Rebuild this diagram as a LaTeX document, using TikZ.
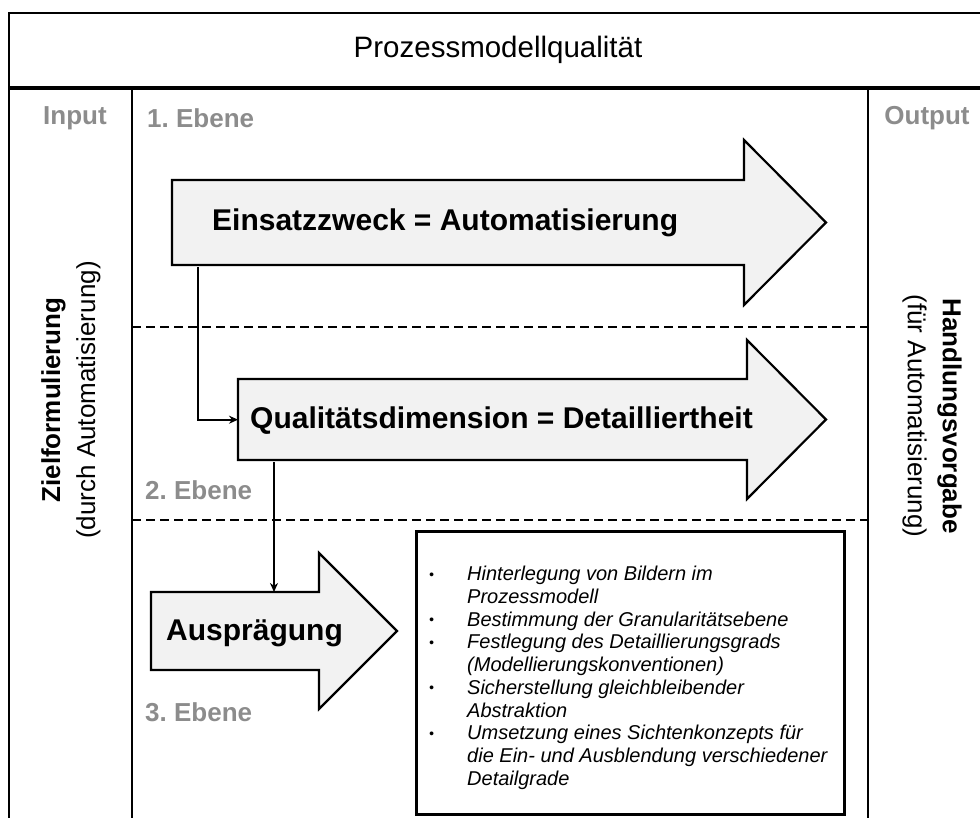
\documentclass[tikz,border=0pt]{standalone}
\usepackage{fontspec}
\setmainfont{Liberation Sans}
\usetikzlibrary{arrows.meta}
\frenchspacing
\definecolor{arrowfill}{RGB}{242,242,242}
\definecolor{labelgray}{RGB}{140,140,140}
\newcommand{\blt}{\makebox[38pt][l]{\raisebox{1.5pt}{\fontsize{14}{14}\selectfont\textbullet}}}
\newcommand{\ind}{\hspace*{38pt}}
\begin{document}
\begin{tikzpicture}[x=1pt,y=-1pt,
  frameline/.style={line width=2.5pt},
  colline/.style={line width=2pt},
  dashsep/.style={line width=2pt, dash pattern=on 9pt off 5pt},
  arrowshape/.style={draw, line width=2.2pt, fill=arrowfill, line join=miter},
  bodybox/.style={inner sep=0, anchor=north west},
  lbl/.style={text=labelgray, inner sep=0, font=\fontsize{26}{30}\selectfont\bfseries},
  atext/.style={font=\fontsize{30}{34}\selectfont\bfseries, anchor=west, inner sep=0},
  conn/.style={line width=1.8pt, -{Stealth[length=9pt,width=8pt]}},
  sidetext/.style={align=center, inner sep=0, font=\fontsize{26}{35}\selectfont}
]
\useasboundingbox (0,0) rectangle (980,818);

% outer frame and title row
\draw[frameline] (9,818) -- (9,13) -- (980,13);
\draw[line width=3.5pt] (9,88) -- (980,88);
\node[font=\fontsize{29.5}{34}\selectfont] (title) at (498,50) {Prozessmodellqualität};

% column separators
\draw[colline] (132,88) -- (132,818);
\draw[colline] (868,88) -- (868,818);

% level separators
\draw[dashsep] (132,327) -- (868,327);
\draw[dashsep] (132,520) -- (868,520);

% labels
\node[lbl] (input) at (75,118) {Input};
\node[lbl] (output) at (927,118) {Output};
\node[lbl, anchor=west] (eb1) at (147,118) {1. Ebene};
\node[lbl, anchor=west] (eb2) at (145,490) {2. Ebene};
\node[lbl, anchor=west] (eb3) at (145,712) {3. Ebene};

% side texts
\node[sidetext, rotate=90] (ziel) at (71,400) {\textbf{Zielformulierung}\\(durch Automatisierung)};
\node[sidetext, rotate=-90] (handl) at (932,416) {\textbf{Handlungsvorgabe}\\(für Automatisierung)};

% arrow 1
\draw[arrowshape] (172,180) -- (744,180) -- (744,140) -- (826,222.5) -- (744,305) -- (744,265) -- (172,265) -- cycle;
\node[bodybox, minimum width=572, minimum height=85] (b1) at (172,180) {};
\node[atext] (t1) at (212,223) {Einsatzzweck = Automatisierung};

% arrow 2
\draw[arrowshape] (238,379) -- (747,379) -- (747,340) -- (826,419.5) -- (747,499) -- (747,460) -- (238,460) -- cycle;
\node[bodybox, minimum width=509, minimum height=81] (b2) at (238,379) {};
\node[atext] (t2) at (250,421) {Qualitätsdimension = Detailliertheit};

% arrow 3
\draw[arrowshape] (151,592) -- (319,592) -- (319,553) -- (397,631) -- (319,709) -- (319,670) -- (151,670) -- cycle;
\node[bodybox, minimum width=168, minimum height=78] (b3) at (151,592) {};
\node[atext] (t3) at (166,633) {Ausprägung};

% connectors
\coordinate (c1) at (198,0);
\coordinate (c2) at (274,0);
\draw[conn] ([yshift=-2pt]b1.south -| c1) |- (b2.west);
\draw[conn] ([yshift=-2pt]b2.south -| c2) -- (b3.north -| c2);

% text box
\node[draw, line width=2.6pt, anchor=north west, minimum width=428, minimum height=283, inner sep=0] (tb) at (415,530) {};
\node[anchor=north west, inner sep=0, align=left, font=\fontsize{20}{22.75}\selectfont\itshape] (lst) at (429,566) {%
\blt Hinterlegung von Bildern im\\
\ind Prozessmodell\\
\blt Bestimmung der Granularitätsebene\\
\blt Festlegung des Detaillierungsgrads\\
\ind (Modellierungskonventionen)\\
\blt Sicherstellung gleichbleibender\\
\ind Abstraktion\\
\blt Umsetzung eines Sichtenkonzepts für\\
\ind die Ein- und Ausblendung verschiedener\\
\ind Detailgrade};
\end{tikzpicture}
\end{document}
